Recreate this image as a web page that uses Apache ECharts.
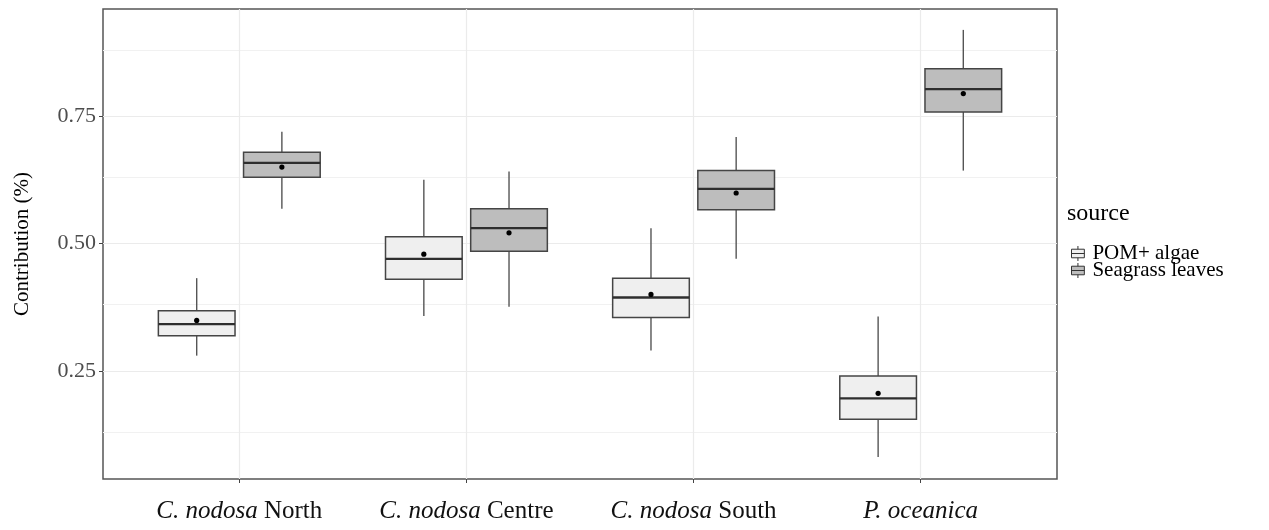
<!DOCTYPE html>
<html>
<head>
<meta charset="utf-8">
<script src="https://cdn.jsdelivr.net/npm/echarts@6/dist/echarts.min.js"></script>
<style>html,body{margin:0;padding:0;background:#fff}#c{width:1269px;height:530px}</style>
</head>
<body>
<div id="c"></div>
<script>
const categories = ['C. nodosa North', 'C. nodosa Centre', 'C. nodosa South', 'P. oceanica'];
const catItalic = ['C. nodosa', 'C. nodosa', 'C. nodosa', 'P. oceanica'];
const catPlain = ['North', 'Centre', 'South', ''];
const seriesNames = ['POM+ algae', 'Seagrass leaves'];

const pomLow    = [0.280, 0.358, 0.290, 0.081];
const pomQ1     = [0.319, 0.430, 0.355, 0.155];
const pomMedian = [0.342, 0.470, 0.394, 0.196];
const pomQ3     = [0.368, 0.513, 0.432, 0.240];
const pomHigh   = [0.432, 0.625, 0.530, 0.357];
const pomMean   = [0.349, 0.479, 0.400, 0.206];

const seaLow    = [0.568, 0.376, 0.470, 0.643];
const seaQ1     = [0.630, 0.485, 0.566, 0.758];
const seaMedian = [0.658, 0.530, 0.607, 0.803];
const seaQ3     = [0.679, 0.568, 0.643, 0.843];
const seaHigh   = [0.719, 0.641, 0.709, 0.919];
const seaMean   = [0.650, 0.521, 0.599, 0.794];

const yTicks = [0.25, 0.5, 0.75];
const yMinorTicks = [0.125, 0.375, 0.625, 0.875];
const xTicks = [1, 2, 3, 4];

const FONT = '"Liberation Serif", "DejaVu Serif", serif';

function buildData(low, q1, med, q3, high, mean) {
  return categories.map((c, i) => [i + 1, low[i], q1[i], med[i], q3[i], high[i], mean[i]]);
}

function makeRender(dodge, fill) {
  return function (params, api) {
    const x = api.value(0) + dodge;
    const pLow = api.coord([x, api.value(1)]);
    const pQ1 = api.coord([x, api.value(2)]);
    const pMed = api.coord([x, api.value(3)]);
    const pQ3 = api.coord([x, api.value(4)]);
    const pHigh = api.coord([x, api.value(5)]);
    const pMean = api.coord([x, api.value(6)]);
    const half = api.size([0.3375, 0])[0] / 2;
    const xc = pMed[0];
    return {
      type: 'group',
      children: [
        { type: 'line', shape: { x1: xc, y1: pHigh[1], x2: xc, y2: pQ3[1] }, style: { stroke: '#555', lineWidth: 1.4 } },
        { type: 'line', shape: { x1: xc, y1: pQ1[1], x2: xc, y2: pLow[1] }, style: { stroke: '#555', lineWidth: 1.4 } },
        { type: 'rect', shape: { x: xc - half, y: pQ3[1], width: half * 2, height: pQ1[1] - pQ3[1] }, style: { fill: fill, stroke: '#454545', lineWidth: 1.5 } },
        { type: 'line', shape: { x1: xc - half, y1: pMed[1], x2: xc + half, y2: pMed[1] }, style: { stroke: '#2e2e2e', lineWidth: 2.3 } },
        { type: 'circle', shape: { cx: xc, cy: pMean[1], r: 2.6 }, style: { fill: '#000' } }
      ]
    };
  };
}

const gridLines = [];
yTicks.forEach(v => gridLines.push({ yAxis: v, lineStyle: { color: '#ebebeb', width: 1.2, type: 'solid' } }));
yMinorTicks.forEach(v => gridLines.push({ yAxis: v, lineStyle: { color: '#f1f1f1', width: 1, type: 'solid' } }));
xTicks.forEach(v => gridLines.push({ xAxis: v, lineStyle: { color: '#ebebeb', width: 1.2, type: 'solid' } }));

const legendIcon = 'path://M1,3 L13,3 L13,11 L1,11 Z M7,0 L7,3 M7,11 L7,14 M1,7 L13,7';

const chart = echarts.init(document.getElementById('c'), null, { renderer: 'canvas' });
chart.setOption({
  animation: false,
  backgroundColor: '#fff',
  title: {
    text: 'source',
    left: 1062,
    top: 197,
    textStyle: { fontFamily: FONT, fontSize: 24, fontWeight: 'normal', color: '#000' }
  },
  legend: {
    orient: 'vertical',
    left: 1066,
    top: 238,
    itemGap: -4,
    itemWidth: 15,
    itemHeight: 15,
    textStyle: { fontFamily: FONT, fontSize: 21, color: '#000', lineHeight: 18, padding: [0, 0, 0, 2] },
    data: [
      { name: seriesNames[0], icon: legendIcon, itemStyle: { color: '#efefef', borderColor: '#333', borderWidth: 1 } },
      { name: seriesNames[1], icon: legendIcon, itemStyle: { color: '#bdbdbd', borderColor: '#333', borderWidth: 1 } }
    ]
  },
  grid: {
    left: 103, right: 212, top: 9, bottom: 51,
    show: true, backgroundColor: '#fff', borderColor: '#555', borderWidth: 1.5,
    containLabel: false
  },
  xAxis: {
    type: 'value',
    min: 0.4, max: 4.6,
    splitLine: { show: false },
    axisLine: { show: false },
    axisTick: { show: true, length: 4, customValues: xTicks, lineStyle: { color: '#444', width: 1 } },
    axisLabel: {
      customValues: xTicks,
      margin: 20,
      fontFamily: FONT,
      fontSize: 25,
      color: '#111',
      formatter: function (v) {
        const i = Math.round(v) - 1;
        return catPlain[i] ? '{i|' + catItalic[i] + '} {n|' + catPlain[i] + '}' : '{i|' + catItalic[i] + '}';
      },
      rich: {
        i: { fontFamily: FONT, fontSize: 25, fontStyle: 'italic', color: '#111' },
        n: { fontFamily: FONT, fontSize: 25, color: '#111' }
      }
    }
  },
  yAxis: {
    type: 'value',
    min: 0.038, max: 0.96,
    name: 'Contribution (%)',
    nameLocation: 'middle',
    nameGap: 70,
    nameTextStyle: { fontFamily: FONT, fontSize: 21, color: '#000' },
    splitLine: { show: false },
    axisLine: { show: false },
    axisTick: { show: true, length: 4, customValues: yTicks, lineStyle: { color: '#444', width: 1 } },
    axisLabel: {
      customValues: yTicks,
      margin: 7,
      fontFamily: FONT,
      fontSize: 22,
      color: '#4d4d4d',
      formatter: v => v.toFixed(2)
    }
  },
  series: [
    {
      name: 'grid',
      type: 'line',
      data: [],
      z: 0,
      silent: true,
      markLine: { silent: true, z: 1, symbol: 'none', label: { show: false }, animation: false, data: gridLines }
    },
    {
      name: seriesNames[0],
      type: 'custom',
      z: 3,
      itemStyle: { color: '#efefef', borderColor: '#333', borderWidth: 1 },
      encode: { x: 0, y: [1, 2, 3, 4, 5, 6] },
      data: buildData(pomLow, pomQ1, pomMedian, pomQ3, pomHigh, pomMean),
      renderItem: makeRender(-0.1875, '#efefef')
    },
    {
      name: seriesNames[1],
      type: 'custom',
      z: 3,
      itemStyle: { color: '#bdbdbd', borderColor: '#333', borderWidth: 1 },
      encode: { x: 0, y: [1, 2, 3, 4, 5, 6] },
      data: buildData(seaLow, seaQ1, seaMedian, seaQ3, seaHigh, seaMean),
      renderItem: makeRender(0.1875, '#bdbdbd')
    }
  ]
});
</script>
</body>
</html>
